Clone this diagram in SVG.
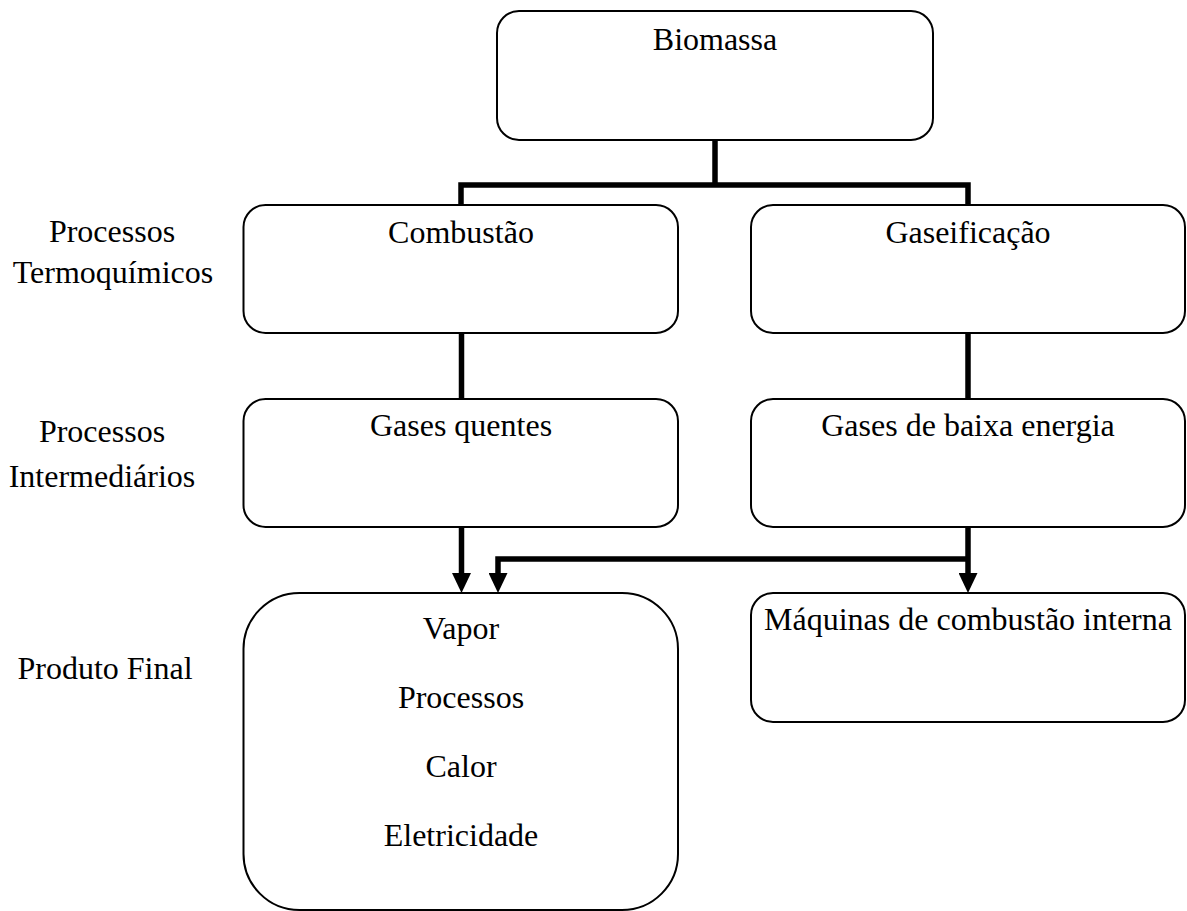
<svg xmlns="http://www.w3.org/2000/svg" width="1187" height="911" viewBox="0 0 1187 911">
<style>
.box{fill:#fff;stroke:#000;stroke-width:2}
.t{font-family:"Liberation Serif","Times New Roman",serif;font-size:32px;fill:#000;text-anchor:middle}
.c{fill:none;stroke:#000;stroke-width:5.5;stroke-linejoin:miter}
</style>
<defs>
<marker id="ah" markerUnits="userSpaceOnUse" markerWidth="20" markerHeight="19" refX="2" refY="9.5" orient="auto" viewBox="0 0 20 19">
<path d="M0,0 L20,9.5 L0,19 Z" fill="#000"/>
</marker>
</defs>
<rect width="1187" height="911" fill="#fff"/>
<g id="labels">
<text class="t" x="112" y="242">Processos</text>
<text class="t" x="113" y="283">Termoquímicos</text>
<text class="t" x="102" y="442">Processos</text>
<text class="t" x="102" y="487">Intermediários</text>
<text class="t" x="105" y="679">Produto Final</text>
</g>
<g id="biomassa">
<rect class="box" x="497" y="11" width="436" height="129" rx="22"/>
<text class="t" x="715" y="50">Biomassa</text>
</g>
<g id="combustao">
<rect class="box" x="243.5" y="205" width="434.5" height="128" rx="22"/>
<text class="t" x="461" y="243">Combustão</text>
</g>
<g id="gaseificacao">
<rect class="box" x="751" y="205" width="434" height="128" rx="22"/>
<text class="t" x="968" y="243">Gaseificação</text>
</g>
<g id="gases-quentes">
<rect class="box" x="243.5" y="399" width="434.5" height="128" rx="22"/>
<text class="t" x="461" y="436">Gases quentes</text>
</g>
<g id="gases-baixa">
<rect class="box" x="751" y="399" width="434" height="128" rx="22"/>
<text class="t" x="968" y="436">Gases de baixa energia</text>
</g>
<g id="produto">
<rect class="box" x="243.5" y="593" width="434.5" height="317" rx="56"/>
<text class="t" x="461" y="639">Vapor</text>
<text class="t" x="461" y="708">Processos</text>
<text class="t" x="461" y="777">Calor</text>
<text class="t" x="461" y="846">Eletricidade</text>
</g>
<g id="maquinas">
<rect class="box" x="751" y="593" width="434" height="129" rx="22"/>
<text class="t" x="968" y="630">Máquinas de combustão interna</text>
</g>
<g id="connectors">
<path class="c" d="M715,141 V185"/>
<path class="c" d="M461,204 V185 H968 V204"/>
<path class="c" d="M461.5,334 V398"/>
<path class="c" d="M968,334 V398"/>
<path class="c" d="M461.5,528 V575" marker-end="url(#ah)"/>
<path class="c" d="M968,528 V575" marker-end="url(#ah)"/>
<path class="c" d="M968,559 H498 V575" marker-end="url(#ah)"/>
</g>
</svg>
